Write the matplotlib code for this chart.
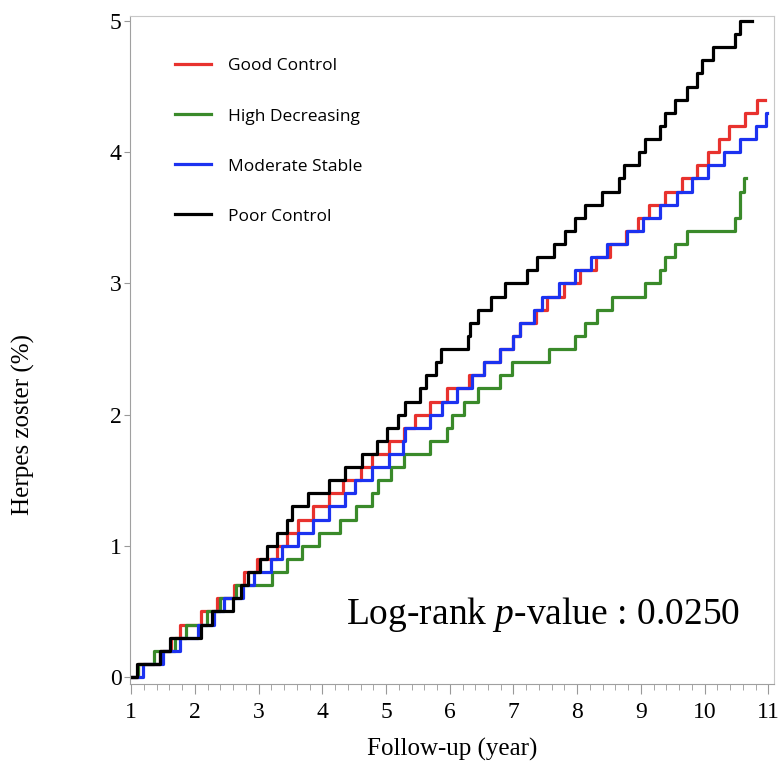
import numpy as np
import matplotlib
matplotlib.use("Agg")
import matplotlib.pyplot as plt

plt.rcParams['font.family'] = 'Liberation Serif'
plt.rcParams['mathtext.fontset'] = 'custom'
plt.rcParams['mathtext.rm'] = 'Liberation Serif'
plt.rcParams['mathtext.it'] = 'Liberation Serif:italic'

# step times (year) where each curve rises by 0.1 %, plus the end of follow-up
good_times = [1.10, 1.45, 1.62, 1.77, 2.10, 2.35, 2.61, 2.77, 2.97, 3.29,
              3.44, 3.62, 3.86, 4.11, 4.33, 4.61, 4.78, 5.04, 5.28, 5.46,
              5.69, 5.96, 6.30, 6.53, 6.79, 7.00, 7.11, 7.35, 7.53, 7.79,
              8.04, 8.30, 8.52, 8.76, 8.96, 9.13, 9.38, 9.64, 9.88, 10.05,
              10.22, 10.39, 10.64, 10.82]
good_end = 10.95

high_times = [1.10, 1.36, 1.69, 1.86, 2.19, 2.40, 2.65, 3.21, 3.44, 3.68,
              3.95, 4.27, 4.53, 4.78, 4.87, 5.08, 5.28, 5.69, 5.96, 6.03,
              6.22, 6.45, 6.79, 6.98, 7.55, 7.97, 8.13, 8.31, 8.55, 9.07,
              9.30, 9.38, 9.54, 9.72, 10.48, 10.55, 10.56, 10.62]
high_end = 10.65

mod_times = [1.19, 1.50, 1.77, 2.04, 2.30, 2.45, 2.75, 2.92, 3.20, 3.37,
             3.62, 3.86, 4.11, 4.36, 4.52, 4.78, 5.04, 5.26, 5.29, 5.69,
             5.88, 6.11, 6.35, 6.53, 6.79, 7.00, 7.11, 7.32, 7.45, 7.71,
             7.97, 8.21, 8.47, 8.78, 9.04, 9.30, 9.57, 9.81, 10.05, 10.30,
             10.55, 10.81, 10.97]
mod_end = 10.98

poor_times = [1.09, 1.45, 1.61, 2.10, 2.26, 2.60, 2.73, 2.84, 3.02, 3.13,
              3.29, 3.44, 3.52, 3.78, 4.11, 4.36, 4.62, 4.86, 5.02, 5.18,
              5.29, 5.54, 5.63, 5.79, 5.87, 6.29, 6.31, 6.45, 6.64, 6.87,
              7.21, 7.37, 7.63, 7.81, 7.97, 8.13, 8.39, 8.65, 8.73, 8.97,
              9.07, 9.30, 9.38, 9.54, 9.72, 9.88, 9.96, 10.14, 10.48, 10.56]
poor_end = 10.74

step = 0.1
labels = ['Good Control', 'High Decreasing', 'Moderate Stable', 'Poor Control']
colors = ['#e8322e', '#3a8a2a', '#1c32f0', '#000000']
series = [(good_times, good_end), (high_times, high_end),
          (mod_times, mod_end), (poor_times, poor_end)]

fig = plt.figure(figsize=(7.81, 7.62), dpi=100)
ax = fig.add_axes([130 / 781, 78 / 762, 644 / 781, 668 / 762])

for (times, end), lab, col in zip(series, labels, colors):
    x = [1.0] + list(times) + [end]
    y = list(np.arange(len(times) + 1) * step) + [len(times) * step]
    ax.plot(x, y, drawstyle='steps-post', color=col, lw=2.3, label=lab)

ax.set_xlim(0.98, 11.09)
ax.set_ylim(-0.053, 5.038)
ax.set_xticks(range(1, 12))
ax.set_xticks(np.arange(1, 11.01, 0.2), minor=True)
ax.set_yticks(range(0, 6))
ax.tick_params(axis='x', which='major', labelsize=17, color='#999999', length=7, pad=6)
ax.tick_params(axis='x', which='minor', color='#999999', length=4)
ax.tick_params(axis='y', which='major', labelsize=17, color='#999999', length=4, pad=2)
for s in ax.spines.values():
    s.set_color('#c8c8c8')
ax.spines['left'].set_color('#a0a0a0')
ax.spines['bottom'].set_color('#a0a0a0')

ax.set_xlabel('Follow-up (year)', fontsize=18)
ax.xaxis.set_label_coords(0.5, -0.081)
ax.set_ylabel('Herpes zoster (%)', fontsize=18)
ax.yaxis.set_label_coords(-0.148, 0.388)

ax.text(0.947, 0.104, 'Log-rank $\\it{p}$-value : 0.0250', transform=ax.transAxes,
        fontsize=27, ha='right', va='center')

leg = ax.legend(loc='upper left', bbox_to_anchor=(0.045, 0.96), frameon=False,
                prop={'family': 'Open Sans', 'size': 12.5}, handlelength=2.1,
                handletextpad=1.0, labelspacing=1.95)

fig.savefig('out.png', dpi=100)
